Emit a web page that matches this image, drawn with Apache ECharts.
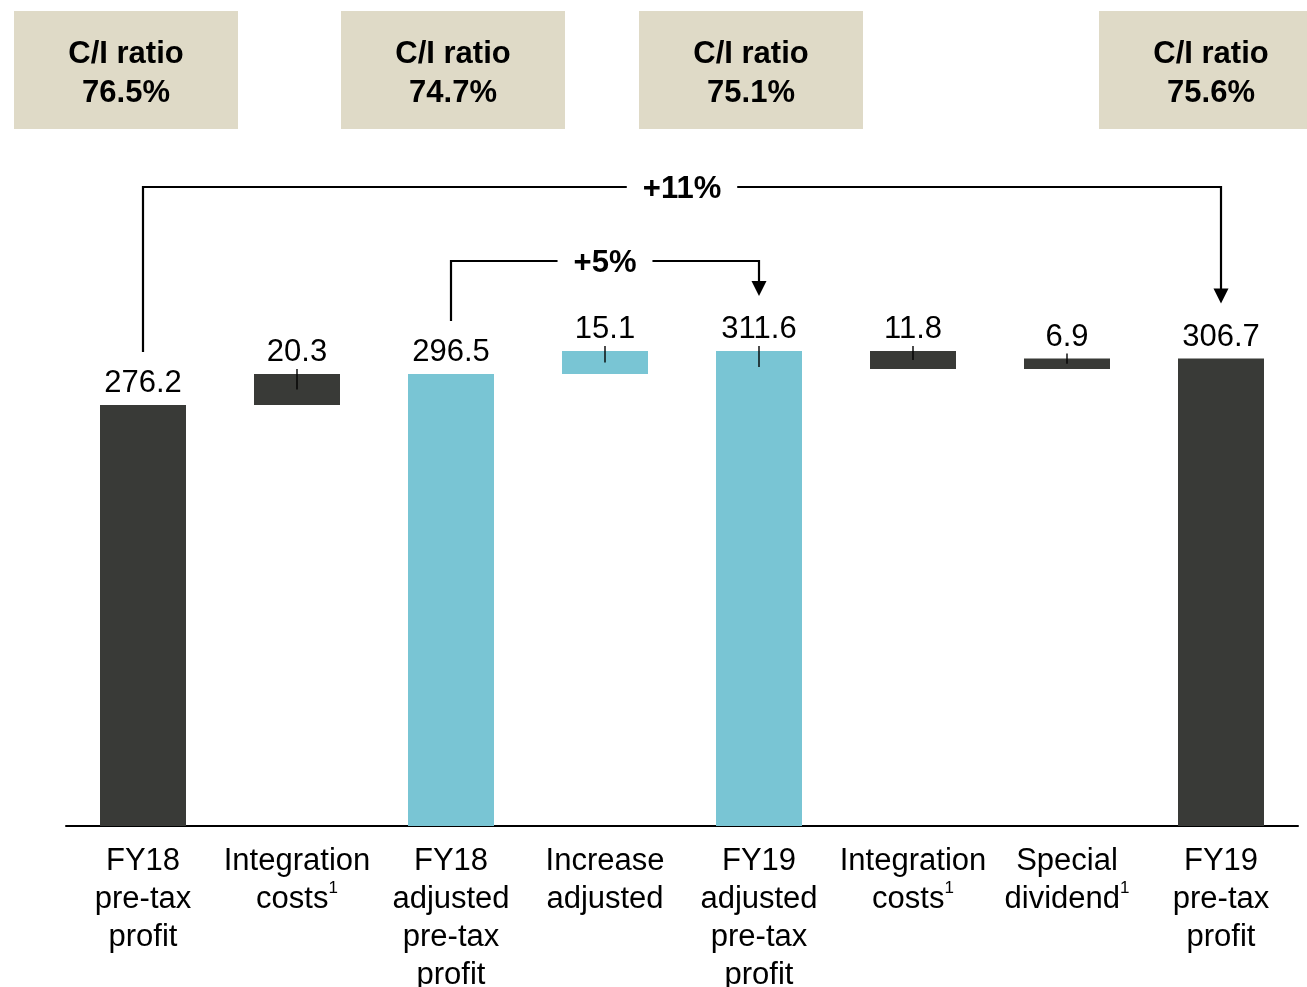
<!DOCTYPE html>
<html>
<head>
<meta charset="utf-8">
<script src="https://cdn.jsdelivr.net/npm/echarts@6/dist/echarts.min.js"></script>
<style>
  html, body { margin: 0; padding: 0; background: #ffffff; }
  #chart { width: 1307px; height: 987px; }
</style>
</head>
<body>
<div id="chart"></div>
<script>
// Bridge from reported to adjusted pre-tax profit, FY18 -> FY19
const categories = [
  'FY18\npre-tax\nprofit',
  'Integration\ncosts¹',
  'FY18\nadjusted\npre-tax\nprofit',
  'Increase\nadjusted',
  'FY19\nadjusted\npre-tax\nprofit',
  'Integration\ncosts¹',
  'Special\ndividend¹',
  'FY19\npre-tax\nprofit'
];
const amounts    = [276.2, 20.3, 296.5, 15.1, 311.6, 11.8, 6.9, 306.7];
const stepKinds  = ['total', 'up', 'total', 'up', 'total', 'down', 'up', 'total'];
const barTones   = ['dark', 'dark', 'cyan', 'cyan', 'cyan', 'dark', 'dark', 'dark'];
const leaderTick = [false, true, false, true, true, true, true, false];

// Cost/income ratio call-outs
const ratioTitles = ['C/I ratio', 'C/I ratio', 'C/I ratio', 'C/I ratio'];
const ratioValues = ['76.5%', '74.7%', '75.1%', '75.6%'];

// Growth brackets between totals
const linkFrom = [0, 2];
const linkTo   = [7, 4];
const linkText = ['+11%', '+5%'];

// ---- styling / layout ----
const COLORS = { dark: '#393a37', cyan: '#79c5d4', box: '#dfdac7', ink: '#000000' };
const FONT = '"Liberation Sans", Arial, Helvetica, sans-serif';
const FS = 31;
const BOX_LEFT = [14, 341, 639, 1099];
const BOX = { top: 11, width: 224, height: 118 };
const LINK_LEVEL_Y = [187, 261];
const LINK_START_GAP = 53;
const LINK_TIP_GAP = 55;

// running totals -> invisible base + visible segment
const bases = [];
const tops = [];
let running = 0;
amounts.forEach(function (v, i) {
  if (stepKinds[i] === 'total') { running = v; bases.push(0); tops.push(v); }
  else if (stepKinds[i] === 'up') { bases.push(running); running = +(running + v).toFixed(1); tops.push(running); }
  else { const hi = running; running = +(running - v).toFixed(1); bases.push(running); tops.push(hi); }
});

const measureCtx = document.createElement('canvas').getContext('2d');
function textWidth(t, font) { measureCtx.font = font; return measureCtx.measureText(t).width; }

function categoryLabel(value) {
  return value.split('\n').map(function (line) {
    if (line.indexOf('¹') >= 0) return '{n|' + line.replace('¹', '') + '}{s|1}';
    return '{n|' + line + '}';
  }).join('\n');
}

const chart = echarts.init(document.getElementById('chart'), null, { renderer: 'canvas' });

const graphics = [];
BOX_LEFT.forEach(function (left, k) {
  graphics.push({
    type: 'rect', left: left, top: BOX.top, silent: true,
    shape: { width: BOX.width, height: BOX.height },
    style: { fill: COLORS.box }
  });
  graphics.push({
    type: 'text', silent: true,
    x: left + BOX.width / 2, y: BOX.top + BOX.height / 2 + 4,
    style: {
      text: ratioTitles[k] + '\n' + ratioValues[k],
      font: 'bold ' + FS + 'px ' + FONT,
      lineHeight: 39,
      fill: COLORS.ink, align: 'center', verticalAlign: 'middle'
    }
  });
});

chart.setOption({
  animation: false,
  backgroundColor: '#ffffff',
  grid: { left: 66, right: 9, top: 216.3, bottom: 161, containLabel: false, outerBoundsMode: 'none' },
  xAxis: {
    type: 'category',
    data: categories,
    axisLine: { lineStyle: { color: COLORS.ink, width: 2 } },
    axisTick: { show: false },
    axisLabel: {
      interval: 0,
      margin: 16,
      formatter: categoryLabel,
      rich: {
        n: { fontFamily: FONT, fontSize: FS, lineHeight: 38, color: COLORS.ink },
        s: { fontFamily: FONT, fontSize: 17, lineHeight: 30, color: COLORS.ink, verticalAlign: 'top' }
      }
    }
  },
  yAxis: { type: 'value', min: 0, max: 400, show: false, splitLine: { show: false } },
  graphic: graphics,
  series: [
    {
      type: 'bar', stack: 'bridge', barWidth: 86, silent: true,
      itemStyle: { color: 'transparent' },
      data: bases
    },
    {
      type: 'bar', stack: 'bridge', barWidth: 86,
      data: amounts.map(function (v, i) {
        return { value: v, itemStyle: { color: COLORS[barTones[i]] } };
      }),
      label: {
        show: true, position: 'top', distance: 6,
        fontFamily: FONT, fontSize: FS, color: COLORS.ink,
        formatter: function (p) { return p.value.toFixed(1); }
      }
    },
    {
      // short leader ticks on the floating segments
      type: 'custom',
      silent: true,
      z: 5,
      data: amounts.map(function (v, i) { return [i, tops[i], bases[i]]; })
        .filter(function (d, i) { return leaderTick[i]; }),
      renderItem: function (params, api) {
        const top = api.coord([api.value(0), api.value(1)]);
        const bottom = api.coord([api.value(0), api.value(2)]);
        const mid = (top[1] + bottom[1]) / 2;
        return {
          type: 'line',
          z2: 10,
          shape: { x1: top[0], y1: top[1] - 5, x2: top[0], y2: Math.min(mid, top[1] + 16) },
          style: { stroke: COLORS.ink, lineWidth: 1.4 }
        };
      }
    },
    {
      // growth brackets with percentage labels
      type: 'custom',
      silent: true,
      clip: false,
      z: 5,
      data: linkFrom.map(function (f, k) { return [f, linkTo[k], tops[f], tops[linkTo[k]]]; }),
      renderItem: function (params, api) {
        const k = params.dataIndex;
        const p0 = api.coord([api.value(0), api.value(2)]);
        const p1 = api.coord([api.value(1), api.value(3)]);
        const yL = LINK_LEVEL_Y[k];
        const x0 = p0[0], x1 = p1[0];
        const yStart = p0[1] - LINK_START_GAP;
        const yTip = p1[1] - LINK_TIP_GAP;
        const midX = (x0 + x1) / 2;
        const font = 'bold ' + FS + 'px ' + FONT;
        const half = textWidth(linkText[k], font) / 2 + 16;
        const stroke = { stroke: COLORS.ink, lineWidth: 2.2, fill: null };
        return {
          type: 'group',
          children: [
            { type: 'polyline', shape: { points: [[x0, yStart], [x0, yL], [midX - half, yL]] }, style: stroke },
            { type: 'polyline', shape: { points: [[midX + half, yL], [x1, yL], [x1, yTip - 12]] }, style: stroke },
            { type: 'polygon', shape: { points: [[x1 - 7.5, yTip - 15], [x1 + 7.5, yTip - 15], [x1, yTip]] }, style: { fill: COLORS.ink } },
            { type: 'text', x: midX, y: yL + 2, style: { text: linkText[k], font: font, fill: COLORS.ink, align: 'center', verticalAlign: 'middle' } }
          ]
        };
      }
    }
  ]
});
</script>
</body>
</html>
